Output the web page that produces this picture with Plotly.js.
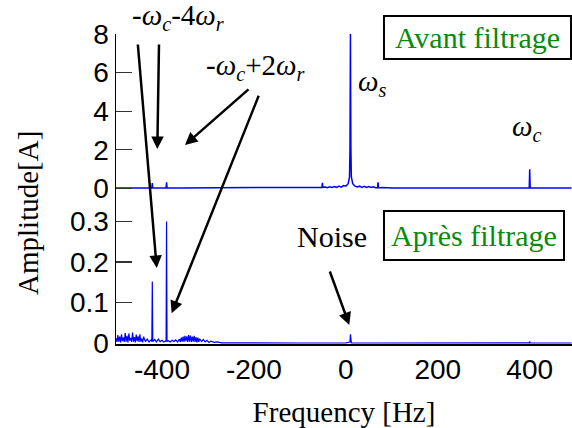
<!DOCTYPE html>
<html>
<head>
<meta charset="utf-8">
<script src="https://cdn.plot.ly/plotly-3.0.1.min.js"></script>
<style>html,body{margin:0;padding:0;background:#fff;}#chart{width:572px;height:428px;}</style>
</head>
<body>
<div id="chart"></div>
<script>
// ---- Data ----
// Top panel: "Avant filtrage"
const topFreq = [-500,-460,-430,-422,-421,-420,-400,-391,-390,-389,-360,-300,-200,-100,-70,-52,-51,-50,-45,-40,-35,-30,-25,-20,-15,-10,-5,0,5,8,9,10,11,12,15,20,25,30,35,40,45,50,55,60,65,69,70,71,75,80,100,200,300,399,400,401,491];
const topAmp  = [0.03,0.03,0.03,0.03,0.28,0.03,0.03,0.03,0.32,0.03,0.03,0.03,0.03,0.04,0.05,0.06,0.30,0.06,0.08,0.04,0.09,0.05,0.10,0.06,0.12,0.07,0.15,0.12,0.25,0.6,2.0,8.0,2.0,0.6,0.25,0.12,0.08,0.12,0.06,0.11,0.05,0.10,0.05,0.09,0.04,0.05,0.32,0.05,0.04,0.05,0.03,0.03,0.03,0.03,1.0,0.03,0.03];

// Bottom panel: "Apres filtrage"
const botFreq = [-500,-498,-496,-494,-492,-490,-488,-486,-484,-482,-480,-478,-476,-474,-472,-470,-468,-466,-464,-462,-460,-458,-456,-454,-452,-450,-448,-446,-444,-442,-440,-436,-432,-428,-424,-422,-421,-420,-416,-412,-408,-404,-400,-396,-392,-391,-390,-389,-386,-382,-378,-374,-370,-366,-362,-360,-358,-356,-354,-352,-350,-348,-346,-344,-342,-340,-338,-336,-334,-332,-330,-328,-326,-324,-322,-320,-318,-314,-310,-306,-302,-298,-294,-290,-286,-280,-270,-250,-200,-100,0,8,9,10,11,12,50,100,200,300,399,400,401,491];
const botAmp  = [0.012,0.003,0.020,0.004,0.016,0.002,0.022,0.005,0.014,0.003,0.025,0.004,0.018,0.002,0.024,0.006,0.013,0.003,0.026,0.004,0.015,0.002,0.021,0.005,0.017,0.003,0.022,0.004,0.011,0.002,0.016,0.004,0.010,0.003,0.008,0.004,0.152,0.004,0.009,0.003,0.010,0.004,0.007,0.003,0.006,0.004,0.300,0.004,0.006,0.003,0.007,0.004,0.008,0.003,0.010,0.003,0.014,0.004,0.016,0.003,0.018,0.005,0.017,0.003,0.020,0.004,0.019,0.003,0.016,0.004,0.018,0.003,0.015,0.002,0.014,0.003,0.011,0.004,0.009,0.003,0.007,0.002,0.005,0.003,0.002,0.003,0.001,0.001,0.0005,0.0005,0.001,0.002,0.003,0.022,0.003,0.001,0.0005,0.0005,0.0005,0.0005,0.001,0.004,0.001,0.0005];

const xTicks = [-400,-200,0,200,400];
const topTicks = [0,2,4,6,8];
const botTicks = [0,0.1,0.2,0.3];
const botTickText = ['0','0.1','0.2','0.3'];

// ---- Plot ----
const serifFont = 'Liberation Serif';
const sansFont = 'Liberation Sans';
const green = '#0a8a0a';
const W = '<i>&#969;</i>';

const traces = [
  {x: topFreq, y: topAmp, xaxis: 'x2', yaxis: 'y2', type: 'scatter', mode: 'lines',
   line: {color: '#0000ff', width: 1.5}, hoverinfo: 'skip'},
  {x: botFreq, y: botAmp, xaxis: 'x', yaxis: 'y', type: 'scatter', mode: 'lines',
   line: {color: '#0000ff', width: 1.2}, hoverinfo: 'skip'}
];

function makeArrow(x, y, ax, ay) {
  return {xref: 'paper', yref: 'paper', x: x, y: y, ax: ax, ay: ay, text: '',
          showarrow: true, arrowhead: 2, arrowsize: 1, arrowwidth: 2.5, arrowcolor: '#000'};
}
function makeLabel(text, x, y, size, color) {
  return {xref: 'paper', yref: 'paper', x: x, y: y, text: text, showarrow: false,
          xanchor: 'center', yanchor: 'middle', font: {family: serifFont, size: size, color: color || '#000'}};
}
function makeBox(text, x, y, w, h) {
  return {xref: 'paper', yref: 'paper', x: x, y: y, text: text, showarrow: false,
          xanchor: 'center', yanchor: 'middle', width: w, height: h, align: 'center', valign: 'middle',
          bordercolor: '#000', borderwidth: 2, borderpad: 0, bgcolor: 'rgba(255,255,255,0)',
          font: {family: serifFont, size: 30, color: green}};
}

const layout = {
  width: 572, height: 428,
  margin: {l: 116, r: 0, t: 34, b: 84},
  showlegend: false,
  xaxis: {domain: [0, 1], anchor: 'y', range: [-500, 492], tickvals: xTicks, ticktext: xTicks.map(String),
          showgrid: false, zeroline: false, showline: true, linecolor: '#000', linewidth: 1.5,
          ticks: '', tickfont: {family: sansFont, size: 28, color: '#000'},
          title: {text: 'Frequency [Hz]', font: {family: serifFont, size: 29, color: '#000'}}},
  yaxis: {domain: [0, 0.4923], anchor: 'x', range: [-0.002, 0.374], tickvals: botTicks, ticktext: botTickText,
          showgrid: false, zeroline: false, showline: true, linecolor: '#000', linewidth: 1.5,
          ticks: 'inside', ticklen: 16, tickcolor: '#333', tickwidth: 1.2,
          tickfont: {family: sansFont, size: 28, color: '#000'}},
  xaxis2: {domain: [0, 1], anchor: 'y2', matches: 'x', showticklabels: false, ticks: '',
           showgrid: false, zeroline: false, showline: false},
  yaxis2: {domain: [0.4923, 1], anchor: 'x2', range: [-0.15, 8], tickvals: topTicks, ticktext: topTicks.map(String),
           showgrid: false, zeroline: false, showline: true, linecolor: '#000', linewidth: 1.5,
           ticks: 'inside', ticklen: 16, tickcolor: '#333', tickwidth: 1.2,
           tickfont: {family: sansFont, size: 28, color: '#000'}},
  annotations: [
    {xref: 'paper', yref: 'paper', x: -0.193, y: 0.4226, text: 'Amplitude[A]', textangle: -90, showarrow: false,
     xanchor: 'center', yanchor: 'middle', font: {family: serifFont, size: 29, color: '#000'}},
    makeLabel('-' + W + '<sub><i>c</i></sub>-4' + W + '<sub><i>r</i></sub>', 0.136, 1.0548, 29),
    makeLabel('-' + W + '<sub><i>c</i></sub>+2' + W + '<sub><i>r</i></sub>', 0.307, 0.8935, 29),
    makeLabel(W + '<sub><i>s</i></sub>', 0.561, 0.842, 29),
    makeLabel(W + '<sub><i>c</i></sub>', 0.901, 0.697, 29),
    makeLabel('Noise', 0.473, 0.346, 30),
    makeBox('Avant filtrage', 0.7923, 0.9897, 185, 41),
    makeBox('Apr&#232;s filtrage', 0.7855, 0.3503, 178, 47),
    makeArrow(0.0893, 0.2452, -19, -225),
    makeArrow(0.0906, 0.629, 1.7, -106),
    makeArrow(0.1513, 0.6419, 65, -57),
    makeArrow(0.1221, 0.099, 87.6, -219),
    makeArrow(0.5116, 0.0613, -20, -55)
  ]
};

Plotly.newPlot('chart', traces, layout, {staticPlot: true, displayModeBar: false});
</script>
</body>
</html>
